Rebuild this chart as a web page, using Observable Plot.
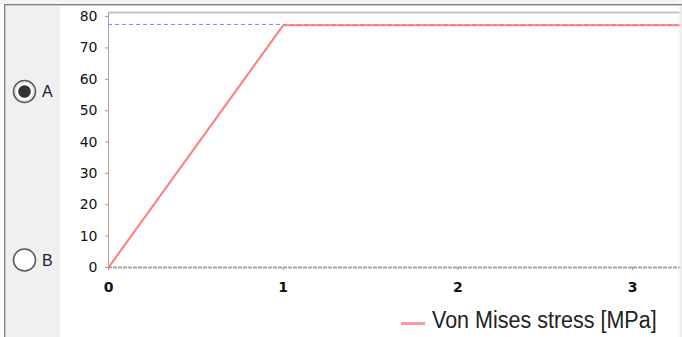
<!DOCTYPE html>
<html>
<head>
<meta charset="utf-8">
<script src="https://cdn.jsdelivr.net/npm/d3@7"></script>
<script src="https://cdn.jsdelivr.net/npm/@observablehq/plot@0.6"></script>
<style>
  html, body { margin: 0; padding: 0; background: #ffffff; }
  #page { position: relative; width: 682px; height: 337px; overflow: hidden; background: #ffffff; }
  #topstrip { position: absolute; left: 0; top: 0; width: 682px; height: 4px; background: #f2f2f2; }
  #hborder { position: absolute; left: 4px; top: 4px; width: 678px; height: 1px; background: #808080; }
  #hborder2 { position: absolute; left: 5px; top: 5px; width: 677px; height: 1px; background: #c8c8c8; }
  #vborder { position: absolute; left: 4px; top: 4px; width: 1px; height: 333px; background: #808080; }
  #vborder2 { position: absolute; left: 5px; top: 5px; width: 1px; height: 332px; background: #c8c8c8; }
  #panel { position: absolute; left: 6px; top: 6px; width: 54px; height: 331px; background: #f0f0f0; }
  #radios { position: absolute; left: 0; top: 0; }
  #chart { position: absolute; left: 60px; top: 0px; }
  #legline { position: absolute; left: 401px; top: 322px; width: 24px; height: 3px; background: #ff9a9a; }
  #legtext { position: absolute; left: 432px; top: 308px; font-family: "Liberation Sans", Arial, sans-serif;
             font-size: 21.5px; color: #222; white-space: nowrap; transform: scale(1, 1.1); transform-origin: 0 50%; }
  #rightfade { position: absolute; left: 677px; top: 6px; width: 5px; height: 331px;
               background: linear-gradient(to right, rgba(240,240,240,0), rgba(235,235,235,1)); }
</style>
</head>
<body>
<div id="page">
  <div id="topstrip"></div>
  <div id="panel"></div>
  <div id="hborder"></div><div id="hborder2"></div>
  <div id="vborder"></div><div id="vborder2"></div>
  <svg id="radios" width="60" height="337">
    <circle cx="24.5" cy="91.5" r="11" fill="#ffffff" stroke="#5a5a5a" stroke-width="1.6"></circle>
    <circle cx="24.5" cy="91.5" r="9.2" fill="none" stroke="#d8d8d8" stroke-width="1"></circle>
    <circle cx="24.5" cy="91.5" r="6.3" fill="#333333"></circle>
    <text x="42" y="97" font-family="Liberation Sans, Arial, sans-serif" font-size="16" fill="#1c1c3c">A</text>
    <circle cx="24.5" cy="260" r="11" fill="#ffffff" stroke="#5a5a5a" stroke-width="1.6"></circle>
    <text x="42" y="265.5" font-family="Liberation Sans, Arial, sans-serif" font-size="16" fill="#1c1c3c">B</text>
  </svg>
  <div id="chart"></div>
  <div id="rightfade"></div>
  <div id="legline"></div>
  <div id="legtext">Von Mises stress [MPa]</div>
</div>
<script>
// Data
const time = [0, 1, 3.3];
const vonMises = [0, 77.2, 77.2];
const limitValue = [77.5];
const xTicks = [0, 1, 2, 3];
const yTicks = [0, 10, 20, 30, 40, 50, 60, 70, 80];
const xDomain = [0, 3.286];
const yDomain = [0, 81.3];

const series = time.map((t, i) => ({t, v: vonMises[i]}));

const chart = Plot.plot({
  width: 622,
  height: 300,
  marginLeft: 48,
  marginRight: 0,
  marginTop: 12,
  marginBottom: 33,
  style: {background: "transparent", overflow: "visible"},
  x: {domain: xDomain, axis: null},
  y: {domain: yDomain, axis: null},
  marks: [
    Plot.ruleY([yDomain[1]], {stroke: "#c4c4c4", strokeWidth: 2}),
    Plot.ruleX([0], {stroke: "#a8a8a8", strokeWidth: 1}),
    Plot.ruleY(limitValue, {stroke: "#8080ff", strokeWidth: 1, strokeDasharray: "4,3"}),
    Plot.line(series, {x: "t", y: "v", stroke: "#ff7d7d", strokeWidth: 2, clip: true}),
    Plot.ruleY([0], {stroke: "#a4a4a4", strokeWidth: 2, strokeDasharray: "4,1"}),
    Plot.axisY(yTicks, {label: null, tickSize: 3, tickPadding: 8, stroke: "#999", fill: "#111",
      fontSize: 14, fontFamily: "DejaVu Sans", tickFormat: d => String(d)}),
    Plot.axisX(xTicks, {label: null, tickSize: 3, tickPadding: 12, stroke: "#999", fill: "#111",
      fontSize: 14, fontWeight: "bold", fontFamily: "DejaVu Sans", tickFormat: d => String(d)})
  ]
});
document.getElementById("chart").appendChild(chart);
</script>
</body>
</html>
